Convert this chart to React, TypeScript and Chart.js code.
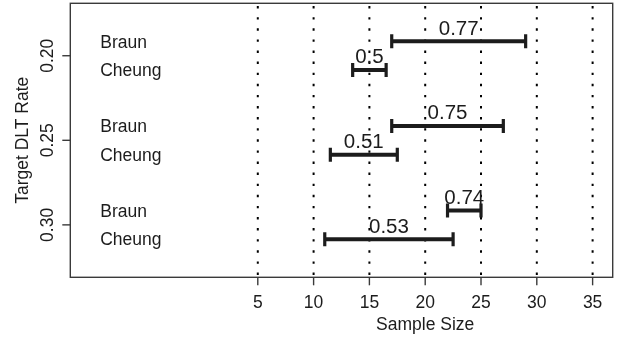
import React, { useEffect, useRef } from 'react';
import { Chart, registerables } from 'chart.js';

Chart.register(...registerables);

// ---- data ----
const rates = [0.2, 0.25, 0.3];
const rateLabels = ['0.20', '0.25', '0.30'];
const methods = ['Braun', 'Cheung'];
const braunLow = [17, 17, 22];
const braunHigh = [29, 27, 25];
const braunProb = ['0.77', '0.75', '0.74'];
const cheungLow = [13.5, 11.5, 11];
const cheungHigh = [16.5, 17.5, 22.5];
const cheungProb = ['0.5', '0.51', '0.53'];
const xTicks = [5, 10, 15, 20, 25, 30, 35];
const xTitle = 'Sample Size';
const yTitle = 'Target DLT Rate';

const ROW_OFF = 0.0085; // vertical offset of the two methods within a rate group
const METHOD_LABEL_X = -9.12;
const FONT = '"Liberation Sans", Arial, Helvetica, sans-serif';
const INK = '#1c1c1c';

const W = 623;
const H = 339;

const lows = [braunLow, cheungLow];
const highs = [braunHigh, cheungHigh];
const probs = [braunProb, cheungProb];
const offs = [-ROW_OFF, ROW_OFF];

function buildDatasets() {
  const ds: any[] = [];
  rates.forEach((r, i) => {
    methods.forEach((m, k) => {
      ds.push({
        label: `${m} ${rateLabels[i]}`,
        data: [
          { x: lows[k][i], y: r + offs[k] },
          { x: highs[k][i], y: r + offs[k] },
        ],
        showLine: true,
        borderColor: INK,
        backgroundColor: INK,
        borderWidth: 4,
        borderCapStyle: 'butt',
        pointStyle: 'line',
        rotation: 90,
        pointRadius: 7,
        pointHoverRadius: 7,
        pointBorderWidth: 3.2,
        pointBorderColor: INK,
      });
    });
  });
  return ds;
}

const deco = {
  id: 'deco',
  beforeDatasetsDraw(chart: any) {
    const { ctx, chartArea: a, scales } = chart;
    const x = scales.x;
    ctx.save();
    ctx.strokeStyle = '#000';
    ctx.lineWidth = 2;
    ctx.setLineDash([2.4, 8.7]);
    for (const t of xTicks) {
      const px = x.getPixelForValue(t);
      ctx.beginPath();
      ctx.moveTo(px, a.top + 2.8);
      ctx.lineTo(px, a.bottom);
      ctx.stroke();
    }
    ctx.restore();
  },
  afterDatasetsDraw(chart: any) {
    const { ctx, chartArea: a, scales } = chart;
    const x = scales.x;
    const y = scales.y;
    ctx.save();
    // frame
    ctx.strokeStyle = '#3a3a3a';
    ctx.lineWidth = 1.4;
    ctx.strokeRect(a.left, a.top, a.right - a.left, a.bottom - a.top);

    // x ticks
    ctx.fillStyle = INK;
    ctx.font = `17.5px ${FONT}`;
    ctx.textAlign = 'center';
    ctx.textBaseline = 'alphabetic';
    for (const t of xTicks) {
      const px = x.getPixelForValue(t);
      ctx.beginPath();
      ctx.moveTo(px, a.bottom);
      ctx.lineTo(px, a.bottom + 8);
      ctx.stroke();
      ctx.fillText(String(t), px, a.bottom + 30.2);
    }
    // x title
    ctx.fillText(xTitle, (x.getPixelForValue(5) + x.getPixelForValue(35)) / 2, a.bottom + 52.7);

    // y ticks
    rates.forEach((r, i) => {
      const py = y.getPixelForValue(r);
      ctx.beginPath();
      ctx.moveTo(a.left - 8, py);
      ctx.lineTo(a.left, py);
      ctx.stroke();
      ctx.save();
      ctx.translate(a.left - 17.3, py);
      ctx.rotate(-Math.PI / 2);
      ctx.fillText(rateLabels[i], 0, 0);
      ctx.restore();
    });
    // y title
    ctx.save();
    ctx.translate(a.left - 42.3, (a.top + a.bottom) / 2);
    ctx.rotate(-Math.PI / 2);
    ctx.fillText(yTitle, 0, 0);
    ctx.restore();

    // method labels
    ctx.textAlign = 'left';
    rates.forEach((r) => {
      methods.forEach((m, k) => {
        const py = y.getPixelForValue(r + offs[k]);
        ctx.fillText(m, x.getPixelForValue(METHOD_LABEL_X), py + 6.2);
      });
    });

    // probability labels
    ctx.textAlign = 'center';
    ctx.font = `20.5px ${FONT}`;
    rates.forEach((r, i) => {
      methods.forEach((m, k) => {
        const py = y.getPixelForValue(r + offs[k]);
        const mid = (lows[k][i] + highs[k][i]) / 2;
        ctx.fillText(probs[k][i], x.getPixelForValue(mid), py - 6.7);
      });
    });
    ctx.restore();
  },
};

export default function App() {
  const ref = useRef<HTMLCanvasElement | null>(null);
  useEffect(() => {
    if (!ref.current) return;
    const chart = new Chart(ref.current, {
      type: 'scatter',
      data: { datasets: buildDatasets() },
      options: {
        animation: false,
        responsive: false,
        devicePixelRatio: 1,
        layout: { autoPadding: false, padding: { left: 70.3, top: 3.3, right: W - 612.7, bottom: H - 277.3 } },
        plugins: { legend: { display: false }, tooltip: { enabled: false } },
        events: [],
        scales: {
          x: { type: 'linear', min: -11.8, max: 36.8, display: false },
          y: { type: 'linear', reverse: true, min: 0.169, max: 0.331, display: false },
        },
      },
      plugins: [deco],
    });
    return () => chart.destroy();
  }, []);
  return (
    <div style={{ position: 'fixed', left: 0, top: 0, width: W, height: H, background: '#fff' }}>
      <canvas ref={ref} width={W} height={H} style={{ display: 'block', width: W, height: H }} />
    </div>
  );
}
